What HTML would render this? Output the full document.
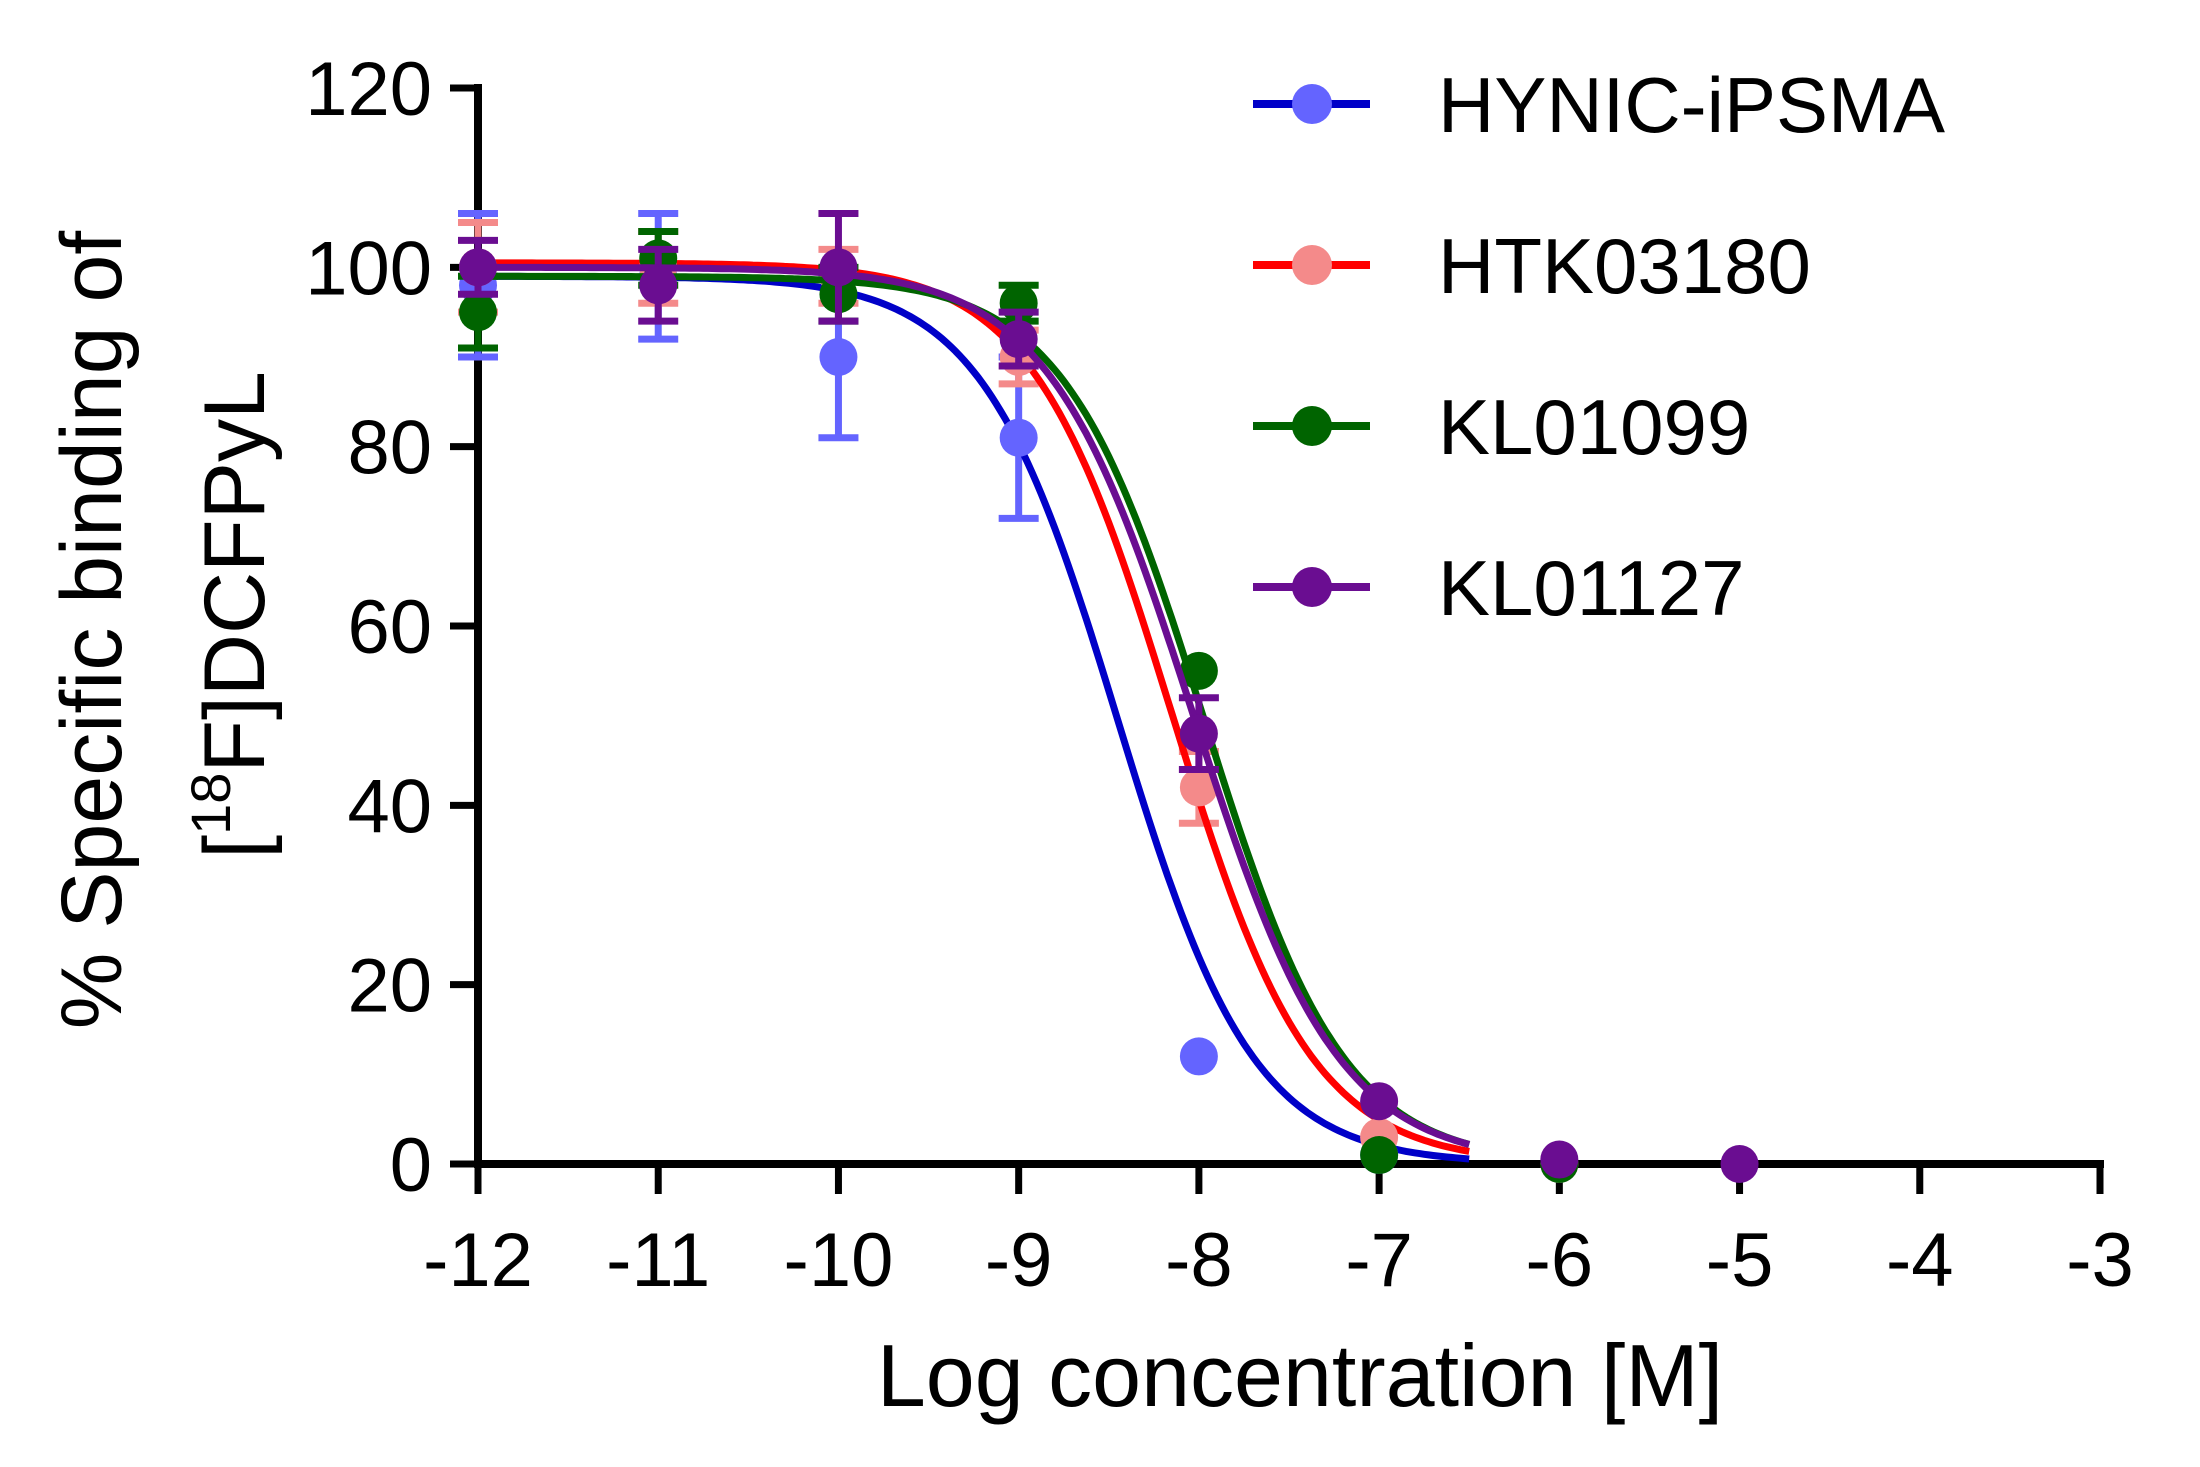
<!DOCTYPE html>
<html><head><meta charset="utf-8">
<style>
html,body{margin:0;padding:0;background:#fff;}
svg{display:block;}
text{font-family:"Liberation Sans",Arial,sans-serif;fill:#000;}
</style></head>
<body>
<svg id="chart" width="2200" height="1467" viewBox="0 0 2200 1467" xmlns="http://www.w3.org/2000/svg">
<g id="axes"></g>
<g id="plot"></g>
<g id="legend"></g>
<text x="1300" y="1406" font-size="88" text-anchor="middle">Log concentration [M]</text>
<text transform="translate(121,630) rotate(-90)" font-size="86" text-anchor="middle">% Specific binding of</text>
<text transform="translate(264,615) rotate(-90)" font-size="86" text-anchor="middle">[<tspan font-size="56" dy="-34">18</tspan><tspan dy="34">F]DCFPyL</tspan></text>
</svg>
<script>
const xTicks = [-12,-11,-10,-9,-8,-7,-6,-5,-4,-3];
const yTicks = [0,20,40,60,80,100,120];
const seriesNames = ["HYNIC-iPSMA","HTK03180","KL01099","KL01127"];
const lineColors = ["#0000c8","#ff0000","#006400","#6a0d91"];
const markerColors = ["#6464ff","#f48a8a","#006400","#6a0d91"];
const xHynic = [-12,-11,-10,-9,-8,-7,-6];
const yHynic = [98,99,90,81,12,1,0];
const eHynic = [8,7,9,9,0,0,0];
const xHtk = [-12,-11,-10,-9,-8,-7,-6];
const yHtk = [100,100,99,90,42,3,0];
const eHtk = [5,4,3,3,4,0,0];
const xKl99 = [-12,-11,-10,-9,-8,-7,-6];
const yKl99 = [95,101,97,96,55,1,0];
const eKl99 = [4,3,3,2,0,0,0];
const xKl27 = [-12,-11,-10,-9,-8,-7,-6,-5];
const yKl27 = [100,98,100,92,48,7,0.5,0];
const eKl27 = [3,4,6,3,4,0,0,0];
const fitTop = [99,100.5,99,100];
const fitBottom = [0,0,0,0];
const fitLogIC50 = [-8.45,-8.15,-7.97,-8.03];
const fitHill = [-1.15,-1.12,-1.12,-1.08];

const NS="http://www.w3.org/2000/svg";
const X0=478,X1=2100,Y0=1164,Y1=88;
const xs=v=>X0+(v-(-12))/9*(X1-X0);
const ys=v=>Y0-v/120*(Y0-Y1);
function mk(tag,attrs,parent){const e=document.createElementNS(NS,tag);for(const k in attrs)e.setAttribute(k,attrs[k]);parent.appendChild(e);return e;}
const axes=document.getElementById('axes'),plot=document.getElementById('plot'),legend=document.getElementById('legend');

let yl=mk('line',{x1:X0,y1:Y0+4,x2:X0,y2:Y1-4,stroke:'#000','stroke-width':8},axes);


let xl=mk('line',{x1:X0-4,y1:Y0,x2:X1+4,y2:Y0,stroke:'#000','stroke-width':8},axes);


yTicks.forEach(v=>{
  let t=mk('line',{x1:X0-28,y1:ys(v),x2:X0,y2:ys(v),stroke:'#000','stroke-width':7},axes);
  
  
  let l=mk('text',{x:X0-46,y:ys(v)+27,'font-size':76,'text-anchor':'end'},axes);
  l.textContent=v;
  
  
});
xTicks.forEach(v=>{
  let t=mk('line',{x1:xs(v),y1:Y0,x2:xs(v),y2:Y0+30,stroke:'#000','stroke-width':7},axes);
  
  
  let l=mk('text',{x:xs(v),y:1286,'font-size':76,'text-anchor':'middle'},axes);
  l.textContent=v;
  
  
});

const data=[[xHynic,yHynic,eHynic],[xHtk,yHtk,eHtk],[xKl99,yKl99,eKl99],[xKl27,yKl27,eKl27]];
data.forEach((d,i)=>{
  const g=mk('g',{},plot);
  
  
  d[0].forEach((x,j)=>{
    if(d[2][j]>0){
      const cx=xs(x),a=ys(d[1][j]+d[2][j]),b=ys(d[1][j]-d[2][j]);
      const eb=mk('path',{d:`M${cx},${a}V${b}M${cx-20},${a}H${cx+20}M${cx-20},${b}H${cx+20}`,stroke:markerColors[i],'stroke-width':7,fill:'none'},g);
      
      
    }
  });
  let p='';
  for(let k=0;k<=220;k++){
    const lx=-12+k*(5.5/220);
    const v=fitBottom[i]+(fitTop[i]-fitBottom[i])/(1+Math.pow(10,(fitLogIC50[i]-lx)*fitHill[i]));
    p+=(k?'L':'M')+xs(lx).toFixed(1)+','+ys(v).toFixed(1);
  }
  const c=mk('path',{d:p,stroke:lineColors[i],'stroke-width':7,fill:'none'},g);
  
  
  d[0].forEach((x,j)=>{
    const m=mk('circle',{cx:xs(x),cy:ys(d[1][j]),r:19,fill:markerColors[i]},g);
    
    
  });
  const ly=104+i*161;
  const lg=mk('g',{},legend);
  
  
  mk('line',{x1:1253,y1:ly,x2:1370,y2:ly,stroke:lineColors[i],'stroke-width':8},lg);
  mk('circle',{cx:1312,cy:ly,r:20,fill:markerColors[i]},lg);
  const t=mk('text',{x:1438,y:ly+28,'font-size':78},lg);
  t.textContent=seriesNames[i];
});
</script>
</body></html>
